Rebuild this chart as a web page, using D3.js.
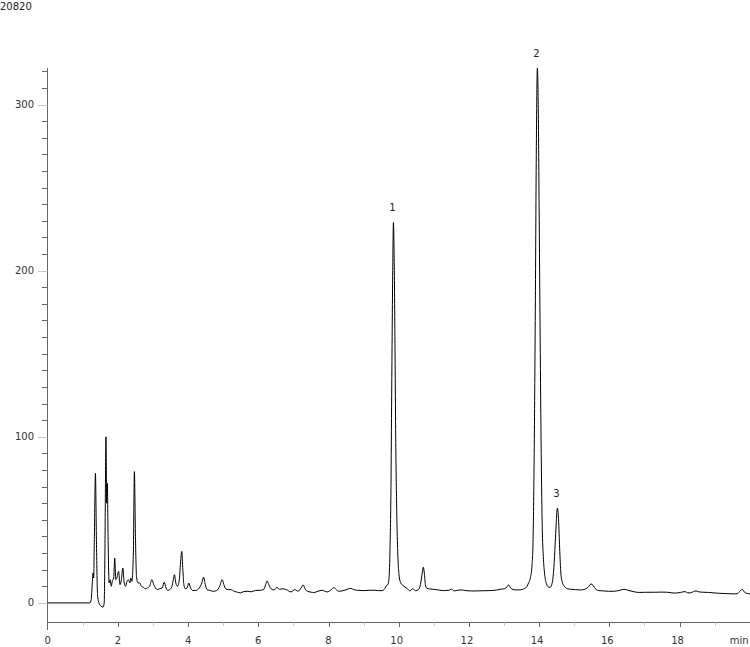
<!DOCTYPE html>
<html>
<head>
<meta charset="utf-8">
<script src="https://cdn.jsdelivr.net/npm/d3@7"></script>
<style>
    body { margin: 0; background: #fff; }
    svg { display: block; font-family: "DejaVu Sans", sans-serif; }
</style>
</head>
<body>
<div id="chromatogram"></div>
<script>
// Sample name shown top left
const sampleName = "20820";

// Retention time (min) and signal
const times = [
    0, 1.20, 1.24, 1.27, 1.29, 1.31, 1.33, 1.36, 1.39, 1.42, 1.46, 1.52, 1.58, 1.61, 1.63, 1.66, 1.68, 1.70, 1.72, 1.75,
    1.78, 1.81, 1.84, 1.88, 1.91, 1.94, 1.97, 2.02, 2.06, 2.10, 2.14, 2.18, 2.22, 2.26, 2.30, 2.34, 2.37, 2.40, 2.44, 2.47,
    2.50, 2.53, 2.57, 2.62, 2.67, 2.72, 2.78, 2.84, 2.90, 2.97, 3.02, 3.07, 3.12, 3.18, 3.26, 3.32, 3.37, 3.42, 3.48, 3.54,
    3.58, 3.61, 3.65, 3.70, 3.75, 3.79, 3.82, 3.85, 3.88, 3.92, 3.97, 4.02, 4.07, 4.13, 4.22, 4.32, 4.39, 4.44, 4.49, 4.54,
    4.62, 4.72, 4.82, 4.90, 4.97, 5.02, 5.07, 5.15, 5.22, 5.31, 5.40, 5.49, 5.58, 5.68, 5.80, 5.92, 6.06, 6.15, 6.21, 6.25,
    6.30, 6.34, 6.40, 6.45, 6.53, 6.60, 6.70, 6.80, 6.93, 7.04, 7.13, 7.22, 7.28, 7.33, 7.40, 7.50, 7.58, 7.70, 7.82, 7.96,
    8.08, 8.15, 8.22, 8.29, 8.40, 8.55, 8.63, 8.72, 8.82, 9.00, 9.15, 9.30, 9.42, 9.53, 9.60, 9.65, 9.69, 9.72, 9.75, 9.78,
    9.80, 9.83, 9.85, 9.875, 9.90, 9.915, 9.94, 9.965, 9.99, 10.02, 10.06, 10.12, 10.18, 10.25, 10.32, 10.40, 10.48, 10.56, 10.62, 10.67,
    10.70, 10.73, 10.76, 10.80, 10.88, 10.98, 11.13, 11.28, 11.43, 11.51, 11.58, 11.68, 11.78, 11.91, 12.04, 12.18, 12.38, 12.60, 12.78, 12.89,
    12.98, 13.06, 13.13, 13.19, 13.26, 13.38, 13.48, 13.58, 13.65, 13.70, 13.76, 13.80, 13.83, 13.86, 13.89, 13.92, 13.95, 13.975, 14.00, 14.03,
    14.06, 14.09, 14.12, 14.16, 14.21, 14.27, 14.31, 14.36, 14.40, 14.44, 14.48, 14.52, 14.555, 14.585, 14.62, 14.66, 14.72, 14.80, 14.90, 15.03,
    15.18, 15.30, 15.40, 15.48, 15.54, 15.61, 15.70, 15.83, 15.98, 16.13, 16.28, 16.42, 16.53, 16.68, 16.85, 17.03, 17.28, 17.48, 17.66, 17.85,
    18.03, 18.16, 18.23, 18.30, 18.40, 18.47, 18.56, 18.68, 18.83, 18.98, 19.13, 19.33, 19.55, 19.65, 19.72, 19.79, 19.85, 19.91, 19.97, 20.03
];
const signal = [
    0, 0, 2, 12, 18, 15, 40, 78, 35, 5, 0, -2, -2.5, 0, 30, 100, 60, 72, 40, 12,
    14, 10, 13, 15, 27, 14, 15, 19, 11, 14, 21, 12, 10, 13, 14, 12, 15, 13, 30, 79,
    40, 16, 12, 12, 10, 9.5, 8.5, 9, 10, 14, 11, 9, 8, 8.5, 9, 12.5, 9, 7.5, 8, 10,
    14, 17, 12, 10, 14, 26, 31, 20, 11, 8.5, 9, 12, 9, 7.5, 7.5, 9, 12, 15.5, 11, 8,
    7.5, 7, 7.5, 10, 14, 11, 8.5, 8, 8, 7, 6.5, 6, 6.8, 7, 6.7, 7.5, 7.6, 8, 11, 13.2,
    11, 9.2, 8, 7.8, 9.4, 8.2, 8.5, 8, 6.6, 8, 7, 9, 10.8, 8.5, 7, 6.5, 6.2, 7, 7.6, 6.6,
    8, 9.2, 8, 7, 7.3, 8.3, 8.8, 8, 7.6, 7.4, 7.6, 7.6, 7.4, 7.4, 8.5, 10.5, 11, 14, 30, 70,
    125, 200, 229, 200, 140, 100, 60, 35, 22, 15, 12, 10.5, 9.5, 8.5, 7.2, 8.6, 7.3, 8, 11, 18,
    21.5, 18, 11, 8.8, 8.4, 8.2, 7.8, 7.4, 7.6, 8.3, 7.2, 7.6, 7.8, 7.4, 7.2, 7.2, 7.3, 7.4, 7.7, 8.2,
    8.4, 9, 10.8, 9, 8, 7.8, 7.9, 8.6, 9.8, 12, 16, 23, 40, 90, 170, 270, 322, 300, 240, 160,
    90, 45, 28, 17, 11.5, 9.5, 9.3, 11, 16, 28, 45, 57, 50, 33, 18, 12.5, 10, 8.6, 8.2, 8,
    7.8, 8.2, 9.5, 11.4, 10.5, 8.3, 7.4, 7.2, 7, 7, 7.5, 8.2, 7.6, 6.8, 6.3, 6.4, 6.4, 6.5, 6.4, 5.9,
    6.3, 6.8, 6.1, 6, 6.8, 7.2, 6.6, 6.4, 6.3, 6, 5.8, 5.6, 5.4, 5.6, 7, 8.2, 6.5, 5.8, 5.5, 5.4
];

// Numbered peaks
const peakNames = ["1", "2", "3"];
const peakTimes = [9.85, 13.95, 14.52];
const peakHeights = [229, 322, 57];

// Axis ticks
const xTicks = d3.range(0, 20);
const xLabelTicks = [0, 2, 4, 6, 8, 10, 12, 14, 16, 18];
const xUnitLabel = "min";
const yTicks = d3.range(0, 330, 10);
const yLabelTicks = [0, 100, 200, 300];

// Canvas
const W = 750, H = 647;
const svg = d3.select("#chromatogram")
    .append("svg")
    .attr("width", W)
    .attr("height", H);

// Scales
const xScale = d3.scaleLinear().domain([0, 20]).range([47.7, 749.7]);
const yScale = d3.scaleLinear().domain([-11.5, 322]).range([622, 68]);

// Sample name
svg.append("text")
    .attr("x", 0)
    .attr("y", 9.5)
    .style("font-size", "10px")
    .attr("fill", "#222")
    .text(sampleName);

// Y axis
svg.append("line")
    .attr("x1", 47.5).attr("x2", 47.5)
    .attr("y1", 68).attr("y2", 630)
    .attr("stroke", "#666");

svg.selectAll(".y-tick")
    .data(yTicks)
    .enter()
    .append("line")
    .attr("class", "y-tick")
    .attr("x1", d => yLabelTicks.includes(d) ? 38 : 42)
    .attr("x2", 47.5)
    .attr("y1", d => Math.round(yScale(d)) + 0.5)
    .attr("y2", d => Math.round(yScale(d)) + 0.5)
    .attr("stroke", d => yLabelTicks.includes(d) ? "#c8c8c8" : "#666");

svg.selectAll(".y-label")
    .data(yLabelTicks)
    .enter()
    .append("text")
    .attr("class", "y-label")
    .attr("x", 34)
    .attr("y", d => yScale(d) + 3.5)
    .attr("text-anchor", "end")
    .style("font-size", "10px")
    .attr("fill", "#333")
    .text(d => d);

// X axis
svg.append("line")
    .attr("x1", 47.5).attr("x2", W)
    .attr("y1", 622.5).attr("y2", 622.5)
    .attr("stroke", "#666");

svg.selectAll(".x-tick")
    .data(xTicks.slice(1))
    .enter()
    .append("line")
    .attr("class", "x-tick")
    .attr("x1", d => Math.round(xScale(d)) + 0.5)
    .attr("x2", d => Math.round(xScale(d)) + 0.5)
    .attr("y1", 622.5)
    .attr("y2", d => xLabelTicks.includes(d) ? 627 : 626)
    .attr("stroke", d => xLabelTicks.includes(d) ? "#666" : "#c8c8c8");

svg.selectAll(".x-label")
    .data(xLabelTicks)
    .enter()
    .append("text")
    .attr("class", "x-label")
    .attr("x", d => xScale(d) - (d >= 10 ? 2 : 0))
    .attr("y", 643.5)
    .attr("text-anchor", "middle")
    .style("font-size", "10px")
    .attr("fill", "#333")
    .text(d => d);

svg.append("text")
    .attr("x", xScale(20) - 1)
    .attr("y", 643.5)
    .attr("text-anchor", "end")
    .style("font-size", "10px")
    .attr("fill", "#333")
    .text(xUnitLabel);

// Trace
const trace = times.map((t, i) => ({ t: t, v: signal[i] }));
const line = d3.line()
    .x(d => xScale(d.t))
    .y(d => yScale(d.v))
    .curve(d3.curveMonotoneX);

svg.append("path")
    .datum(trace)
    .attr("d", line)
    .attr("fill", "none")
    .attr("stroke", "#000")
    .attr("stroke-width", 1);

// Peak numbers
svg.selectAll(".peak-label")
    .data(peakNames)
    .enter()
    .append("text")
    .attr("class", "peak-label")
    .attr("x", (d, i) => xScale(peakTimes[i]) - 1)
    .attr("y", (d, i) => yScale(peakHeights[i]) - 11)
    .attr("text-anchor", "middle")
    .style("font-size", "10px")
    .attr("fill", "#222")
    .text(d => d);
</script>
</body>
</html>
